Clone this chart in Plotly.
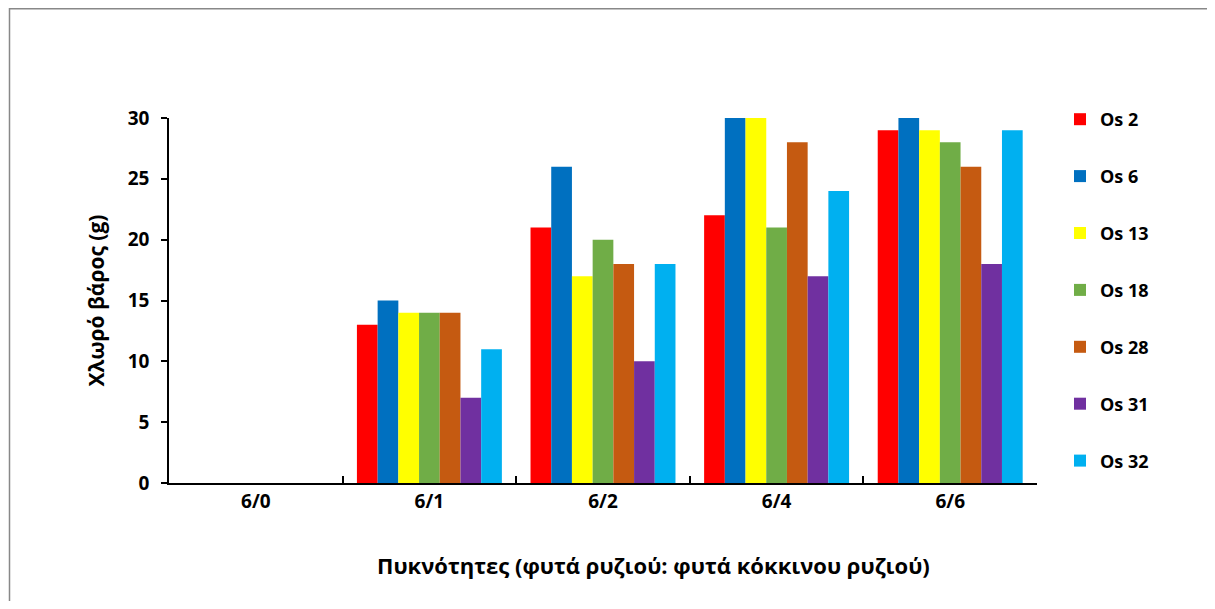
import plotly.graph_objects as go

categories = ["6/0", "6/1", "6/2", "6/4", "6/6"]
series_names = ["Os 2", "Os 6", "Os 13", "Os 18", "Os 28", "Os 31", "Os 32"]
os2 = [0, 13, 21, 22, 29]
os6 = [0, 15, 26, 30, 30]
os13 = [0, 14, 17, 30, 29]
os18 = [0, 14, 20, 21, 28]
os28 = [0, 14, 18, 28, 26]
os31 = [0, 7, 10, 17, 18]
os32 = [0, 11, 18, 24, 29]
series_values = [os2, os6, os13, os18, os28, os31, os32]
colors = ["#FF0000", "#0070C0", "#FFFF00", "#70AD47", "#C55A11", "#7030A0", "#00B0F0"]
y_ticks = [0, 5, 10, 15, 20, 25, 30]
x_title = "Πυκνότητες (φυτά ρυζιού: φυτά κόκκινου ρυζιού)"
y_title = "Χλωρό βάρος (g)"

FONT = "Open Sans"

fig = go.Figure()
for name, vals, col in zip(series_names, series_values, colors):
    fig.add_trace(go.Bar(x=categories, y=vals, name=name, marker_color=col,
                         marker_line_width=0, legendgroup=name))

# page body has an 8px margin, so the figure is slightly smaller than the window
W, H = 1199, 593
L, R, T, B = 161, 170, 110, 118
pw, ph = W - L - R, H - T - B

fig.update_layout(
    width=W, height=H,
    margin=dict(l=L, r=R, t=T, b=B),
    paper_bgcolor="white", plot_bgcolor="white",
    barmode="group", bargap=0.165, bargroupgap=0,
    font=dict(family=FONT, color="black"),
    legend=dict(x=(1052 - L) / pw, y=(H - 93 - B) / ph, xanchor="left", yanchor="top",
                font=dict(size=18, family=FONT, weight="bold"),
                traceorder="grouped", tracegroupgap=30.5, itemwidth=30,
                maxheight=580, bgcolor="rgba(0,0,0,0)"),
    xaxis=dict(showline=True, linecolor="black", linewidth=1.5,
               ticks="inside", ticklen=7, tickcolor="black", tickwidth=1.5,
               tickson="boundaries",
               tickfont=dict(size=19, family=FONT, weight="bold"),
               showgrid=False),
    yaxis=dict(range=[0, 30], tickvals=y_ticks, showline=True, linecolor="black", linewidth=1.5,
               ticks="outside", ticklen=6, tickcolor="black", tickwidth=1.5,
               ticklabelstandoff=8,
               tickfont=dict(size=19, family=FONT, weight="bold"),
               title=dict(text=y_title,
                          font=dict(size=21, family=FONT, weight="bold"), standoff=17),
               showgrid=False, zeroline=False),
)

# x-axis title (offset to the right, as in the reference)
fig.add_annotation(text=x_title, xref="paper", yref="paper",
                   x=(645 - L) / pw, y=(H - 557 - B) / ph,
                   xanchor="center", yanchor="middle", showarrow=False,
                   font=dict(size=22, family=FONT, weight="bold", color="black"))

# outer chart border (top and left visible)
fig.add_shape(type="line", xref="paper", yref="paper",
              x0=(1 - L) / pw, x1=(W + 5 - L) / pw,
              y0=(H - 0.75 - B) / ph, y1=(H - 0.75 - B) / ph,
              line=dict(color="#888888", width=1.5))
fig.add_shape(type="line", xref="paper", yref="paper",
              x0=(1.5 - L) / pw, x1=(1.5 - L) / pw,
              y0=(H - B) / ph, y1=(-5 - B) / ph,
              line=dict(color="#888888", width=1.5))

fig.write_html("out.html")
